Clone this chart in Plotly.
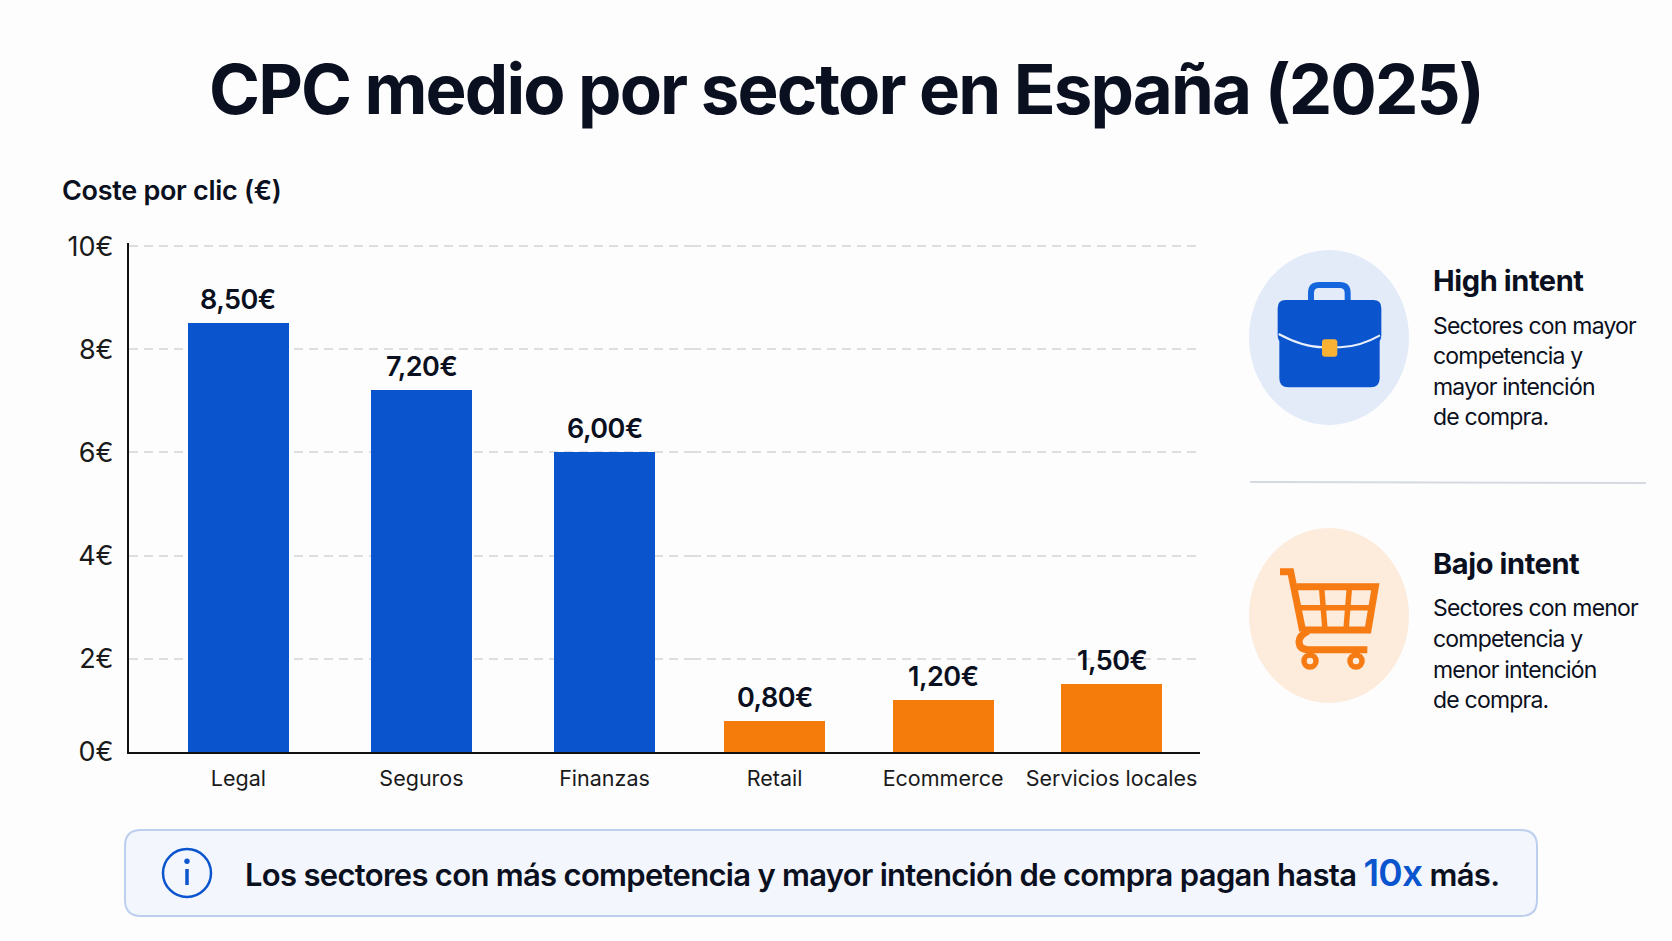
import plotly.graph_objects as go

W, H = 1672, 941
FONT = "Inter"
INK = "#0b1020"
BLUE = "#0a55cd"
ORANGE = "#f57b0a"

# ---- data ----
high_categories = ["Legal", "Seguros", "Finanzas"]
high_values = [8.5, 7.2, 6.0]
low_categories = ["Retail", "Ecommerce", "Servicios locales"]
low_values = [0.8, 1.2, 1.5]
y_ticks = [0.19, 2, 4, 6, 8, 10]
y_tick_labels = ["0€", "2€", "4€", "6€", "8€", "10€"]


def euro(v):
    return f"{v:.2f}".replace(".", ",") + "€"


def px(x):
    return x / W


def py(y):
    return 1 - y / H


def path(cmds):
    out = []
    for c in cmds:
        if isinstance(c, str):
            out.append(c)
        else:
            out.append(f"{px(c[0]):.5f},{py(c[1]):.5f}")
    return " ".join(out)


def rrect(x0, y0, x1, y1, r):
    return path(["M", (x0 + r, y0), "L", (x1 - r, y0), "Q", (x1, y0), (x1, y0 + r),
                 "L", (x1, y1 - r), "Q", (x1, y1), (x1 - r, y1),
                 "L", (x0 + r, y1), "Q", (x0, y1), (x0, y1 - r),
                 "L", (x0, y0 + r), "Q", (x0, y0), (x0 + r, y0), "Z"])


def tight(text, spacing):
    return f'<span style="letter-spacing:{spacing}px">{text}</span>'


fig = go.Figure()
fig.add_trace(go.Bar(x=high_categories, y=high_values, xaxis="x", yaxis="y", width=0.552,
                     marker=dict(color=BLUE, line_width=0), hoverinfo="skip"))
fig.add_trace(go.Bar(x=low_categories, y=low_values, xaxis="x2", yaxis="y", width=0.6,
                     marker=dict(color=ORANGE, line_width=0), hoverinfo="skip"))

shapes = []


def shape_path(d, fill="rgba(0,0,0,0)", line=None, width=0, layer="above"):
    shapes.append(dict(type="path", xref="paper", yref="paper", path=d, fillcolor=fill,
                       line=dict(color=line or "rgba(0,0,0,0)", width=width), layer=layer))


def ellipse(x0, y0, x1, y1, fill="rgba(0,0,0,0)", line=None, width=0, layer="above"):
    shapes.append(dict(type="circle", xref="paper", yref="paper", x0=px(x0), x1=px(x1),
                       y0=py(y1), y1=py(y0), fillcolor=fill,
                       line=dict(color=line or "rgba(0,0,0,0)", width=width), layer=layer))


# banner
shape_path(rrect(125, 830, 1537, 916, 16), fill="#f3f6fd", line="#bccfee", width=2, layer="below")
ellipse(163, 849, 211, 897, line=BLUE, width=2.5)
ellipse(184.3, 858.5, 189.7, 863.9, fill=BLUE)
shape_path(path(["M", (187, 869), "L", (187, 885)]), line=BLUE, width=3.5)

# divider
shape_path(path(["M", (1250, 482), "L", (1646, 483)]), line="#d5d9e2", width=2)

# briefcase
ellipse(1249, 250, 1409, 425, fill="#e3ebf9", layer="below")


def zb(x, y):
    return (1220 + x / 3, 230 + y / 3)


shape_path(rrect(*zb(273, 165), *zb(383, 240), 8), line="#1565dd", width=6)
shape_path(rrect(*zb(178, 280), *zb(479, 472), 9), fill=BLUE)
shape_path(rrect(*zb(173, 210), *zb(484, 340), 8), fill=BLUE)
shape_path(path(["M", zb(176, 312), "Q", zb(250, 352), zb(310, 352), "L", zb(360, 352),
                 "Q", zb(420, 350), zb(480, 316)]), line="#eaf0fb", width=2)
shape_path(rrect(*zb(306, 328), *zb(352, 380), 3), fill="#f9b233")

# cart
ellipse(1249, 528, 1409, 703, fill="#fdebdc", layer="below")


def zc(x, y):
    return (1260 + x / 3, 555 + y / 3)


C = "#f57b12"
shape_path(path(["M", zc(60, 50), "L", zc(92, 50), "L", zc(128, 228)]), line=C, width=7)
shape_path(path(["M", zc(110, 95), "L", zc(346, 95), "L", zc(324, 225), "L", zc(130, 225)]), line=C, width=7)
shape_path(path(["M", zc(185, 100), "L", zc(195, 225), "M", zc(268, 100), "L", zc(258, 225),
                 "M", zc(122, 158), "L", zc(335, 158)]), line=C, width=5.5)
shape_path(path(["M", zc(145, 228), "Q", zc(118, 240), zc(117, 260), "Q", zc(118, 284), zc(145, 284),
                 "L", zc(322, 284)]), line=C, width=7)
ellipse(*zc(132, 300), *zc(168, 336), line=C, width=5.5)
ellipse(*zc(270, 300), *zc(306, 336), line=C, width=5.5)

ann = []


def note(text, x, y, size, weight=400, anchor="left", color=INK):
    ann.append(dict(text=text, xref="paper", yref="paper", x=px(x), y=py(y), xanchor=anchor,
                    yanchor="middle", showarrow=False, align="left",
                    font=dict(family=FONT, size=size, color=color, weight=weight)))


note(tight("CPC medio por sector en España (2025)", -1.9), 846, 89, 69, 700, "center")
note(tight("Coste por clic (€)", -0.3), 60, 191, 27, 600)

note(tight("High intent", -0.4), 1431, 280, 29, 700)
for txt, y in zip(["Sectores con mayor", "competencia y", "mayor intención", "de compra."], [326, 356, 387, 417]):
    note(tight(txt, -0.8), 1431, y, 23)
note(tight("Bajo intent", -0.4), 1431, 563, 29, 700)
for txt, y in zip(["Sectores con menor", "competencia y", "menor intención", "de compra."], [608, 639, 670, 700]):
    note(tight(txt, -0.8), 1431, y, 23)

note(tight('Los sectores con más competencia y mayor intención de compra pagan hasta '
           f'<span style="color:{BLUE};font-size:37px">10x</span> más.', -0.7), 243, 872, 31, 600)

# value labels, anchored on each bar through the data scales
for cats, vals, xa in [(high_categories, high_values, "x"), (low_categories, low_values, "x2")]:
    for c, v in zip(cats, vals):
        ann.append(dict(text=tight(euro(v), -0.5), x=c, y=v, xref=xa, yref="y", yanchor="bottom", xanchor="center",
                        yshift=5, showarrow=False,
                        font=dict(family=FONT, size=27, color=INK, weight=600)))

x_common = dict(showline=True, linecolor="#111111", linewidth=2, showgrid=False, ticks="",
                tickfont=dict(family=FONT, size=21.5, color="#1a1a1a"), ticklabelstandoff=6,
                anchor="y", type="category", fixedrange=True, zeroline=False)

fig.update_layout(
    width=W, height=H, autosize=False, showlegend=False, bargap=0,
    paper_bgcolor="#fdfdfe", plot_bgcolor="rgba(0,0,0,0)",
    margin=dict(l=0, r=0, t=0, b=0, autoexpand=False),
    font=dict(family=FONT, color=INK),
    xaxis=dict(domain=[px(129), px(692)], range=[-0.598, 2.478], **x_common),
    xaxis2=dict(domain=[px(692), px(1200)], range=[-0.49, 2.525], **x_common),
    yaxis=dict(domain=[py(752), py(243)], range=[0.19, 10.06], anchor="x",
               tickmode="array", tickvals=y_ticks, ticktext=y_tick_labels,
               showline=True, linecolor="#111111", linewidth=2, ticks="",
               tickfont=dict(family=FONT, size=27, color="#1a1a1a"), ticklabelstandoff=8,
               showgrid=True, gridcolor="#dedede", gridwidth=1.5, griddash="9px,6px",
               zeroline=False, fixedrange=True),
    shapes=shapes, annotations=ann,
)

fig.write_html("out.html", post_script="document.body.style.margin='0';", config={"displayModeBar": False})
